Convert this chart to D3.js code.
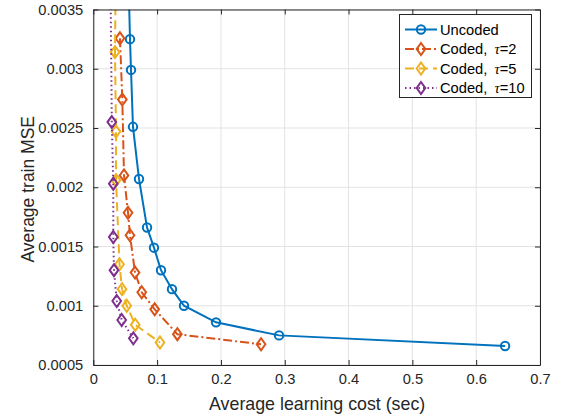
<!DOCTYPE html>
<html><head><meta charset="utf-8">
<script src="https://cdn.jsdelivr.net/npm/d3@7"></script>
<style>html,body{margin:0;padding:0;background:#fff;}svg{display:block;font-family:"Liberation Sans",Arial,Helvetica,sans-serif;}</style>
</head><body><svg id="c" width="562" height="418"></svg>
<script>
// ---- data ----
const uncodedX = [0.0545, 0.0575, 0.0591, 0.0622, 0.0716, 0.0842, 0.0951, 0.1061, 0.1233, 0.1421, 0.1923, 0.2911, 0.6453];
const uncodedY = [0.0039, 0.00325, 0.00299, 0.00251, 0.00207, 0.00166, 0.00149, 0.00130, 0.00114, 0.00100, 0.00086, 0.00075, 0.00066];
const coded2X = [0.0418, 0.0455, 0.0481, 0.0544, 0.0575, 0.0654, 0.0759, 0.0962, 0.1317, 0.2629];
const coded2Y = [0.003257, 0.00274, 0.0021, 0.001785, 0.001595, 0.00128, 0.001114, 0.00097, 0.00076, 0.000675];
const coded5X = [0.0355, 0.034, 0.0356, 0.0356, 0.0411, 0.045, 0.0524, 0.0657, 0.1045];
const coded5Y = [0.0040, 0.00314, 0.00247, 0.00206, 0.00135, 0.00114, 0.00100, 0.00084, 0.00069];
const coded10X = [0.027, 0.029, 0.0313, 0.0313, 0.0324, 0.0367, 0.0445, 0.0627];
const coded10Y = [0.0037, 0.00255, 0.00203, 0.00158, 0.00130, 0.00104, 0.00088, 0.000725];
const xTicks = [0, 0.1, 0.2, 0.3, 0.4, 0.5, 0.6, 0.7];
const xTickLabels = ["0", "0.1", "0.2", "0.3", "0.4", "0.5", "0.6", "0.7"];
const yTicks = [0.0005, 0.001, 0.0015, 0.002, 0.0025, 0.003, 0.0035];
const yTickLabels = ["0.0005", "0.001", "0.0015", "0.002", "0.0025", "0.003", "0.0035"];
const seriesNames = ["Uncoded", "Coded, ", "Coded, ", "Coded, "];
const tauValues = [null, "2", "5", "10"];
const xLabel = "Average learning cost (sec)";
const yLabel = "Average train MSE";

// ---- layout ----
const L = 93.3, R = 540, T = 9.5, B = 365;
const svg = d3.select("#c");
const x = d3.scaleLinear().domain([0, 0.7]).range([L, R]);
const y = d3.scaleLinear().domain([0.0005, 0.0035]).range([B, T]);
const axisColor = "#262626";

const series = [
  {xs: uncodedX, ys: uncodedY, color: "#0072BD", dash: null, marker: "circle"},
  {xs: coded2X, ys: coded2Y, color: "#D95319", dash: "9,3,2,3", marker: "diamond"},
  {xs: coded5X, ys: coded5Y, color: "#EDB120", dash: "9,5", marker: "diamond"},
  {xs: coded10X, ys: coded10Y, color: "#7E2F8E", dash: "1.5,3", marker: "diamond"}
];

svg.append("defs").append("clipPath").attr("id", "clip")
  .append("rect").attr("x", L).attr("y", T).attr("width", R - L).attr("height", B - T);

// grid
const grid = svg.append("g");
xTicks.forEach(t => grid.append("line").attr("x1", x(t)).attr("x2", x(t)).attr("y1", T).attr("y2", B)
  .attr("stroke", "#e3e3e3").attr("stroke-width", 1));
yTicks.forEach(t => grid.append("line").attr("x1", L).attr("x2", R).attr("y1", y(t)).attr("y2", y(t))
  .attr("stroke", "#e3e3e3").attr("stroke-width", 1));

// data
const plot = svg.append("g").attr("clip-path", "url(#clip)");
function markerPath(kind) {
  if (kind === "circle") return d3.symbol().type(d3.symbolCircle).size(Math.PI * 4.2 * 4.2)();
  const h = 6;
  return `M0,${-h}L${h * 0.72},0L0,${h}L${-h * 0.72},0Z`;
}
const line = d3.line().x(d => x(d[0])).y(d => y(d[1]));
series.forEach(s => {
  const pts = s.xs.map((v, i) => [v, s.ys[i]]);
  plot.append("path").attr("d", line(pts)).attr("fill", "none").attr("stroke", s.color)
    .attr("stroke-width", 2).attr("stroke-dasharray", s.dash);
  plot.selectAll(null).data(pts).enter().append("path")
    .attr("d", markerPath(s.marker))
    .attr("transform", d => `translate(${x(d[0])},${y(d[1])})`)
    .attr("fill", "none").attr("stroke", s.color).attr("stroke-width", 2);
});

// axes
const fmtX = d => xTickLabels[xTicks.indexOf(d)];
const fmtY = d => yTickLabels[yTicks.indexOf(d)];
const ax = [
  svg.append("g").attr("transform", `translate(0,${B})`).call(d3.axisBottom(x).tickValues(xTicks).tickFormat(fmtX).tickSizeInner(-5).tickSizeOuter(0).tickPadding(9)),
  svg.append("g").attr("transform", `translate(0,${T})`).call(d3.axisTop(x).tickValues(xTicks).tickFormat("").tickSizeInner(-5).tickSizeOuter(0)),
  svg.append("g").attr("transform", `translate(${L},0)`).call(d3.axisLeft(y).tickValues(yTicks).tickFormat(fmtY).tickSizeInner(-5).tickSizeOuter(0).tickPadding(10)),
  svg.append("g").attr("transform", `translate(${R},0)`).call(d3.axisRight(y).tickValues(yTicks).tickFormat("").tickSizeInner(-5).tickSizeOuter(0))
];
ax.forEach(g => {
  g.select(".domain").attr("stroke", axisColor).attr("stroke-width", 1);
  g.selectAll(".tick line").attr("stroke", axisColor);
  g.selectAll(".tick text").attr("fill", axisColor).attr("font-size", "14.7px").attr("font-family", null);
});

// labels
svg.append("text").attr("x", (L + R) / 2 + 0.5).attr("y", 410).attr("text-anchor", "middle")
  .attr("font-size", "17.8px").attr("fill", axisColor).text(xLabel);
svg.append("text").attr("transform", `translate(34,${(T + B) / 2 + 2}) rotate(-90)`).attr("text-anchor", "middle")
  .attr("font-size", "17.5px").attr("fill", axisColor).text(yLabel);

// legend
const lg = svg.append("g");
lg.append("rect").attr("x", 399.5).attr("y", 14.5).attr("width", 132).attr("height", 83)
  .attr("fill", "#fff").attr("stroke", axisColor).attr("stroke-width", 1);
series.forEach((s, i) => {
  const ly = 29.5 + i * 19.5;
  lg.append("line").attr("x1", 405).attr("x2", 437).attr("y1", ly).attr("y2", ly)
    .attr("stroke", s.color).attr("stroke-width", 2).attr("stroke-dasharray", s.dash);
  lg.append("path").attr("d", markerPath(s.marker)).attr("transform", `translate(421,${ly})`)
    .attr("fill", "none").attr("stroke", s.color).attr("stroke-width", 2);
  const t = lg.append("text").attr("x", 440).attr("y", ly + 5).attr("font-size", "14.7px").attr("fill", "#000");
  t.append("tspan").text(seriesNames[i]);
  if (tauValues[i] !== null) {
    t.append("tspan").attr("dx", 3).attr("font-style", "italic").attr("font-family", "'Liberation Serif','DejaVu Serif',serif").text("τ");
    t.append("tspan").text("=" + tauValues[i]);
  }
});
</script></body></html>
